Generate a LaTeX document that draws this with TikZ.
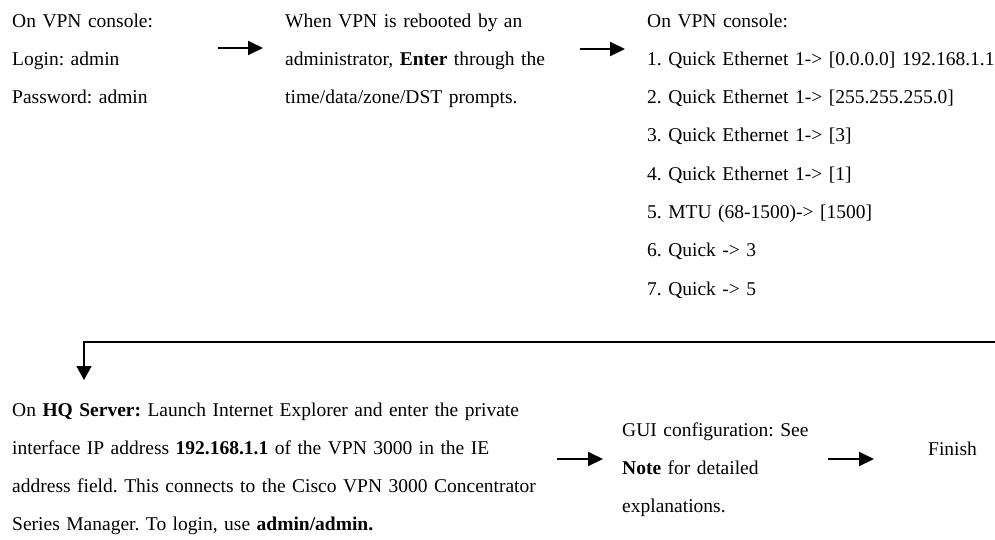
\documentclass[tikz,border=0pt]{standalone}
\usepackage{fontspec}
\setmainfont{Liberation Serif}
\usetikzlibrary{arrows.meta}
\frenchspacing
\begin{document}
\begin{tikzpicture}[x=1pt,y=-1pt,
  txt/.style={anchor=base west, inner sep=0pt, align=left, text width=#1,
    font=\fontsize{19.5}{38.3}\selectfont\frenchspacing},
  arr/.style={line width=2pt, -{Triangle[length=15pt,width=14pt]}},
  elbow/.style={line width=1.6pt, -{Triangle[length=14pt,width=15pt]}}]
\useasboundingbox (0,0) rectangle (995,539);
\node[txt=220pt] (login) at (12,27) {On VPN console:\\Login: admin\\Password: admin};
\node[txt=290pt] (reboot) at (285,27) {When VPN is rebooted by an\\administrator, \textbf{Enter} through the\\time/data/zone/DST prompts.};
\node[txt=360pt] (quick) at (647,27) {On VPN console:\\1. Quick Ethernet 1-> [0.0.0.0] 192.168.1.1\\2. Quick Ethernet 1-> [255.255.255.0]\\3. Quick Ethernet 1-> [3]\\4. Quick Ethernet 1-> [1]\\5. MTU (68-1500)-> [1500]\\6. Quick -> 3\\7. Quick -> 5};
\node[txt=570pt] (hq) at (12,416) {On \textbf{HQ Server:} Launch Internet Explorer and enter the private\\interface IP address \textbf{192.168.1.1} of the VPN 3000 in the IE\\address field. This connects to the Cisco VPN 3000 Concentrator\\Series Manager. To login, use \textbf{admin/admin.}};
\node[txt=240pt] (gui) at (622,436) {GUI configuration: See\\\textbf{Note} for detailed\\explanations.};
\node[txt=60pt] (finish) at (928,455) {Finish};
\coordinate (a1s) at (218,48); \coordinate (a1e) at (263,48);
\coordinate (a2s) at (580,49); \coordinate (a2e) at (625,49);
\coordinate (a3s) at (557,459); \coordinate (a3e) at (603,459);
\coordinate (a4s) at (828,459); \coordinate (a4e) at (874,459);
\coordinate (es) at (995,342); \coordinate (ec) at (84,342); \coordinate (ee) at (84,380);
\draw[arr] (a1s) -- (a1e);
\draw[arr] (a2s) -- (a2e);
\draw[arr] (a3s) -- (a3e);
\draw[arr] (a4s) -- (a4e);
\draw[elbow] (es) -- (ec) -- (ee);
\end{tikzpicture}
\end{document}
